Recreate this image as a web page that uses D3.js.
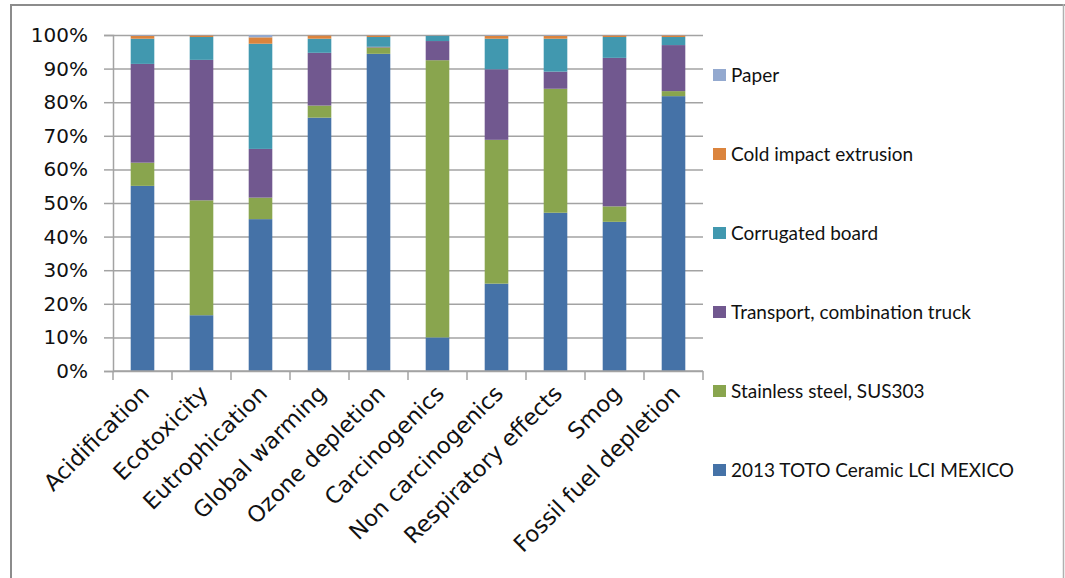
<!DOCTYPE html>
<html>
<head>
<meta charset="utf-8">
<script src="https://cdn.jsdelivr.net/npm/d3@7"></script>
<style>
  html, body { margin: 0; padding: 0; background: #fff; }
  svg { display: block; }
</style>
</head>
<body>
<svg id="chart" width="1065" height="578"></svg>
<script>
// Impact categories (x axis)
const categories = ["Acidification", "Ecotoxicity", "Eutrophication", "Global warming",
  "Ozone depletion", "Carcinogenics", "Non carcinogenics", "Respiratory effects",
  "Smog", "Fossil fuel depletion"];

// Contribution of each process, in percent of the category total
const totoCeramic   = [55.1, 16.6, 45.2, 75.4, 94.4, 10.0, 26.0, 47.1, 44.4, 81.8];
const stainlessSteel = [6.9, 34.2, 6.4, 3.6, 1.9, 82.5, 42.8, 36.9, 4.6, 1.5];
const transportTruck = [29.4, 41.8, 14.5, 15.7, 0.2, 5.7, 21.0, 5.1, 44.2, 13.7];
const corrugatedBoard = [7.5, 6.8, 31.3, 4.2, 2.9, 1.6, 9.1, 9.8, 6.2, 2.4];
const coldExtrusion  = [0.9, 0.5, 1.9, 1.0, 0.5, 0.1, 0.9, 0.9, 0.5, 0.5];
const paper          = [0.2, 0.1, 0.7, 0.1, 0.1, 0.1, 0.2, 0.2, 0.1, 0.1];

// Series names, bottom of the stack first
const seriesNames = ["2013 TOTO Ceramic LCI MEXICO", "Stainless steel, SUS303",
  "Transport, combination truck", "Corrugated board", "Cold impact extrusion", "Paper"];
const seriesValues = [totoCeramic, stainlessSteel, transportTruck, corrugatedBoard, coldExtrusion, paper];
const seriesColors = ["#4572A7", "#89A54E", "#71588F", "#4198AF", "#DB843D", "#93A9CF"];

const yTicks = [0, 0.1, 0.2, 0.3, 0.4, 0.5, 0.6, 0.7, 0.8, 0.9, 1.0];

// Rows for d3.stack
const rows = categories.map((c, i) => {
  const r = { category: c };
  seriesNames.forEach((s, k) => { r[s] = seriesValues[k][i]; });
  return r;
});

const stacked = d3.stack().keys(seriesNames).offset(d3.stackOffsetExpand)(rows);

const svg = d3.select("#chart");

// Outer chart frame
svg.append("line").attr("x1", 11).attr("x2", 1065).attr("y1", 5).attr("y2", 5)
  .attr("stroke", "#8c8c8c").attr("stroke-width", 2);
svg.append("line").attr("x1", 11).attr("x2", 11).attr("y1", 4).attr("y2", 578)
  .attr("stroke", "#8c8c8c").attr("stroke-width", 2);
svg.append("line").attr("x1", 1063.5).attr("x2", 1063.5).attr("y1", 4).attr("y2", 578)
  .attr("stroke", "#b0b0b0").attr("stroke-width", 1.5);

const plot = { left: 113, right: 703, top: 35, bottom: 371 };

const x = d3.scaleBand().domain(categories).range([plot.left, plot.right])
  .paddingInner(0.6).paddingOuter(0.3);
const y = d3.scaleLinear().domain([0, 1]).range([plot.bottom, plot.top]);

const gridColor = "#a3a3a3";

// Horizontal gridlines with outer tick marks
const yAxis = d3.axisLeft(y).tickValues(yTicks).tickSize(9).tickFormat(d3.format(".0%"));
const gy = svg.append("g").attr("transform", `translate(${plot.left},0)`).call(yAxis);
gy.select(".domain").attr("stroke", gridColor).attr("stroke-width", 1.5);
gy.selectAll(".tick line").attr("stroke", gridColor).attr("stroke-width", 1.5);
gy.selectAll(".tick text").attr("x", -25).attr("fill", "#111")
  .style("font-family", "'DejaVu Sans', sans-serif").style("font-size", "20px");
gy.selectAll(".tick").append("line")
  .attr("x1", 0).attr("x2", plot.right - plot.left)
  .attr("stroke", gridColor).attr("stroke-width", 1.5);

// Stacked bars
svg.append("g").selectAll("g").data(stacked).join("g")
  .attr("fill", (d, i) => seriesColors[i])
  .selectAll("rect").data(d => d).join("rect")
  .attr("x", d => x(d.data.category))
  .attr("width", x.bandwidth())
  .attr("y", d => y(d[1]))
  .attr("height", d => y(d[0]) - y(d[1]));

// Category axis with ticks between bars
const gx = svg.append("g").attr("transform", `translate(0,${plot.bottom})`);
gx.append("line").attr("x1", plot.left).attr("x2", plot.right)
  .attr("stroke", gridColor).attr("stroke-width", 1.5);
const step = x.step();
d3.range(categories.length + 1).forEach(i => {
  const xx = plot.left + i * step;
  gx.append("line").attr("x1", xx).attr("x2", xx).attr("y1", 0).attr("y2", 9)
    .attr("stroke", gridColor).attr("stroke-width", 1.5);
});
gx.selectAll("text.cat").data(categories).join("text")
  .attr("class", "cat")
  .attr("transform", d => `translate(${x(d) + x.bandwidth() / 2 + 8},${24}) rotate(-45)`)
  .attr("text-anchor", "end")
  .attr("fill", "#111")
  .style("font-family", "'DejaVu Sans', sans-serif")
  .style("font-size", "22.5px")
  .text(d => d);

// Legend, top entry is the top of the stack
const legendY = [75, 154, 233, 312, 391, 470];
const legendOrder = seriesNames.map((s, i) => i).reverse();
const lg = svg.append("g");
legendOrder.forEach((k, j) => {
  const g = lg.append("g").attr("transform", `translate(713,${legendY[j]})`);
  g.append("rect").attr("x", 0).attr("y", -6).attr("width", 13).attr("height", 12)
    .attr("fill", seriesColors[k]);
  g.append("text").attr("x", 18).attr("y", 0).attr("dy", "0.35em")
    .attr("fill", "#111")
    .style("font-family", "Lato, sans-serif").style("font-size", "19px")
    .text(seriesNames[k]);
});
</script>
</body>
</html>
